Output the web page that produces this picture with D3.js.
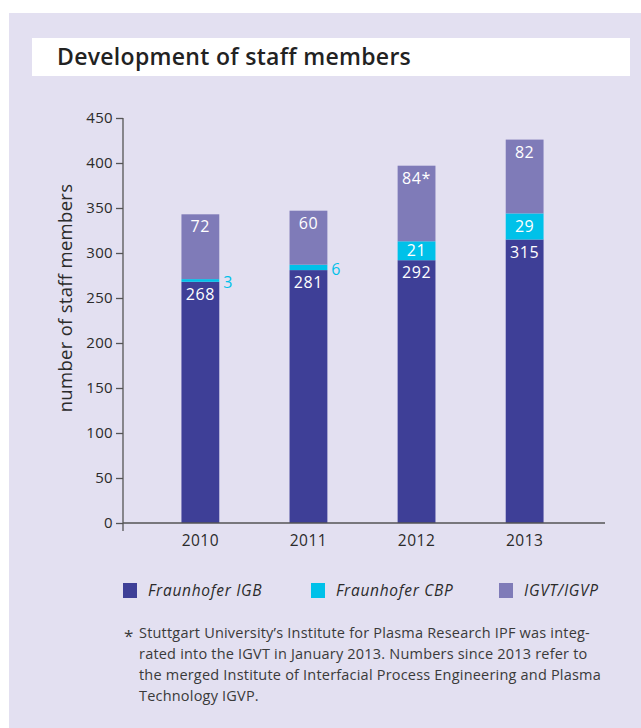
<html>
<head>
<script src="https://d3js.org/d3.v7.min.js"></script>
<style>
body { margin: 0; background: #ffffff; }
svg text { font-family: 'Open Sans', 'Noto Sans', sans-serif; fill: #2b2b2b; }
.tick text { font-size: 15px; letter-spacing: 0.3px; }
.tick line, .axis-line { stroke: #555555; stroke-width: 1.3; }
.bar-label { font-size: 16px; fill: #ffffff; letter-spacing: 0.6px; }
.legend text { font-size: 15.5px; font-style: italic; letter-spacing: 0.7px; }
.note text { font-size: 14.5px; fill: #3a3a3a; letter-spacing: 0.2px; }
</style>
</head>
<body>
<svg id="chart" width="641" height="728"></svg>
<script>
// data
var years = ["2010", "2011", "2012", "2013"];
var igb = [268, 281, 292, 315];      // Fraunhofer IGB
var cbp = [3, 6, 21, 29];            // Fraunhofer CBP
var igvt = [72, 60, 84, 82];         // IGVT / IGVP
var igvtLabels = ["72", "60", "84*", "82"];
var yTicks = [0, 50, 100, 150, 200, 250, 300, 350, 400, 450];
var seriesNames = ["Fraunhofer IGB", "Fraunhofer CBP", "IGVT/IGVP"];
var seriesColors = ["#3e3f97", "#00c1e9", "#7f7bb8"];
var noteLines = [
    "Stuttgart University’s Institute for Plasma Research IPF was integ-",
    "rated into the IGVT in January 2013. Numbers since 2013 refer to",
    "the merged Institute of Interfacial Process Engineering and Plasma",
    "Technology IGVP."
];

var svg = d3.select("#chart");

// panel background + title box
svg.append("rect").attr("x", 9).attr("y", 13).attr("width", 632).attr("height", 715)
    .attr("fill", "#e3e0f1");
svg.append("rect").attr("x", 32).attr("y", 38).attr("width", 598).attr("height", 38)
    .attr("fill", "#ffffff");
svg.append("text").attr("x", 57).attr("y", 65)
    .style("font-size", "23px").style("font-weight", "600").style("fill", "#222")
    .style("letter-spacing", "0.3px")
    .text("Development of staff members");

var y = d3.scaleLinear().domain([0, 450]).range([523, 118]);
var x = d3.scaleBand().domain(years).range([122, 603])
    .paddingInner(0.65).paddingOuter(0.55);

// stacked rows
var rows = years.map(function (yr, i) {
    return { year: yr, igb: igb[i], cbp: cbp[i], igvt: igvt[i], label: igvtLabels[i] };
});
var stack = d3.stack().keys(["igb", "cbp", "igvt"])(rows);

svg.append("g").selectAll("g")
    .data(stack)
    .enter().append("g")
    .attr("fill", function (d, i) { return seriesColors[i]; })
    .selectAll("rect")
    .data(function (d) { return d; })
    .enter().append("rect")
    .attr("x", function (d) { return x(d.data.year); })
    .attr("y", function (d) { return y(d[1]); })
    .attr("width", x.bandwidth())
    .attr("height", function (d) { return y(d[0]) - y(d[1]); });

// axes
var yAxis = d3.axisLeft(y).tickValues(yTicks).tickSize(7).tickPadding(3);
var gy = svg.append("g").attr("transform", "translate(123,0)").call(yAxis);
gy.select(".domain").remove();
gy.selectAll(".tick text").style("fill", "#2b2b2b");

svg.append("line").attr("class", "axis-line")
    .attr("x1", 123).attr("x2", 123).attr("y1", y(450)).attr("y2", 531);
svg.append("line").attr("class", "axis-line")
    .attr("x1", 123).attr("x2", 605).attr("y1", y(0)).attr("y2", y(0));

svg.append("g").selectAll("text")
    .data(years)
    .enter().append("text")
    .attr("x", function (d) { return x(d) + x.bandwidth() / 2; })
    .attr("y", 546)
    .attr("text-anchor", "middle")
    .style("font-size", "15.5px")
    .style("letter-spacing", "0.5px")
    .text(function (d) { return d; });

svg.append("text")
    .attr("transform", "translate(72,298) rotate(-90)")
    .attr("text-anchor", "middle")
    .style("font-size", "18.5px")
    .style("letter-spacing", "0.3px")
    .text("number of staff members");

// value labels
var labels = svg.append("g");
rows.forEach(function (r) {
    var cx = x(r.year) + x.bandwidth() / 2;
    labels.append("text").attr("class", "bar-label")
        .attr("x", cx).attr("y", y(r.igb) + 18)
        .attr("text-anchor", "middle").text(r.igb);

    var cTop = y(r.igb + r.cbp), cBot = y(r.igb);
    if (cBot - cTop > 14) {
        labels.append("text").attr("class", "bar-label")
            .attr("x", cx).attr("y", (cTop + cBot) / 2).attr("dy", ".35em")
            .attr("text-anchor", "middle").text(r.cbp);
    } else {
        labels.append("text").attr("class", "bar-label")
            .style("fill", seriesColors[1])
            .attr("x", x(r.year) + x.bandwidth() + 4).attr("y", (cTop + cBot) / 2).attr("dy", ".45em")
            .text(r.cbp);
    }

    labels.append("text").attr("class", "bar-label")
        .attr("x", cx).attr("y", y(r.igb + r.cbp + r.igvt) + 18)
        .attr("text-anchor", "middle").text(r.label);
});

// legend
var legendX = [123, 311, 499];
var legend = svg.append("g").attr("class", "legend").selectAll("g")
    .data(seriesNames)
    .enter().append("g")
    .attr("transform", function (d, i) { return "translate(" + legendX[i] + ",583)"; });
legend.append("rect").attr("width", 14).attr("height", 15)
    .attr("fill", function (d, i) { return seriesColors[i]; });
legend.append("text").attr("x", 25).attr("y", 13).text(function (d) { return d; });

// footnote
var note = svg.append("g").attr("class", "note");
note.append("text").attr("x", 124).attr("y", 642).style("font-size", "17px").text("*");
note.selectAll("text.line")
    .data(noteLines)
    .enter().append("text").attr("class", "line")
    .attr("x", 139)
    .attr("y", function (d, i) { return 638 + i * 21; })
    .text(function (d) { return d; });
</script>
</body>
</html>
